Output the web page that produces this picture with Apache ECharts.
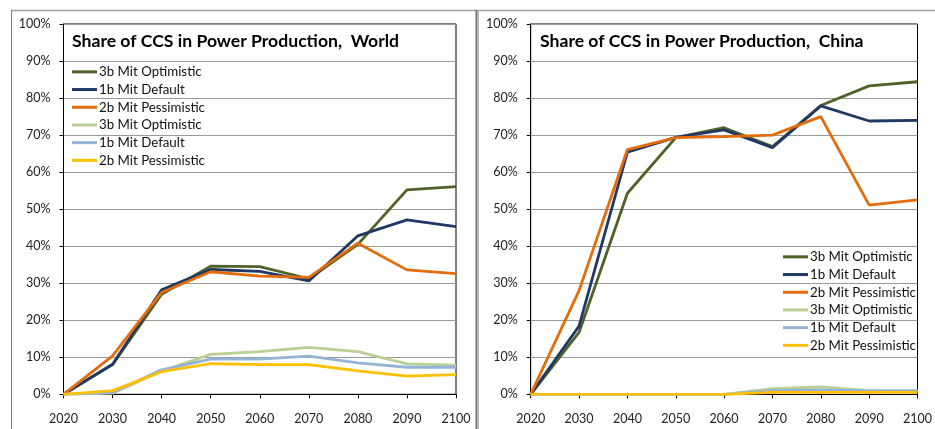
<!DOCTYPE html>
<html>
<head>
<meta charset="utf-8">
<script src="https://cdn.jsdelivr.net/npm/echarts@6/dist/echarts.min.js"></script>
<style>
  html, body { margin: 0; padding: 0; background: #fff; }
  #chart { width: 935px; height: 429px; }
</style>
</head>
<body>
<div id="chart"></div>
<script>
// Years on the horizontal axis
const years = ['2020', '2030', '2040', '2050', '2060', '2070', '2080', '2090', '2100'];

// Scenario labels, in legend order
const scenarioLabels = ['3b Mit Optimistic', '1b Mit Default', '2b Mit Pessimistic',
                        '3b Mit Optimistic', '1b Mit Default', '2b Mit Pessimistic'];
const scenarioColors = ['#4F6228', '#1F3864', '#E46C0A', '#B9CF93', '#95B3D7', '#FFC000'];

// Share of CCS in power production, World (%)
const worldOptimistic   = [0, 8.0, 27.0, 34.6, 34.5, 31.2, 40.5, 55.2, 56.1];
const worldDefault      = [0, 8.1, 28.2, 33.7, 33.2, 30.6, 42.8, 47.1, 45.3];
const worldPessimistic  = [0, 10.4, 27.5, 33.1, 31.9, 31.6, 40.8, 33.6, 32.6];
const worldOptimisticB  = [0, 0.3, 6.3, 10.8, 11.5, 12.7, 11.5, 8.2, 7.9];
const worldDefaultB     = [0, 0.5, 6.6, 9.5, 9.5, 10.3, 8.5, 7.3, 7.3];
const worldPessimisticB = [0, 1.0, 6.1, 8.3, 8.0, 8.0, 6.3, 4.9, 5.3];

// Share of CCS in power production, China (%)
const chinaOptimistic   = [0, 16.7, 54.3, 69.3, 72.0, 66.9, 78.0, 83.3, 84.4];
const chinaDefault      = [0, 18.4, 65.4, 69.4, 71.4, 66.6, 77.9, 73.8, 74.0];
const chinaPessimistic  = [0, 28.0, 66.1, 69.3, 69.6, 70.0, 75.0, 51.1, 52.5];
const chinaOptimisticB  = [0, 0, 0, 0, 0, 1.5, 2.0, 1.0, 1.0];
const chinaDefaultB     = [0, 0, 0, 0, 0, 1.0, 1.2, 0.9, 0.9];
const chinaPessimisticB = [0, 0, 0, 0, 0, 0.5, 0.5, 0.5, 0.5];

const worldSets = [worldOptimistic, worldDefault, worldPessimistic,
                   worldOptimisticB, worldDefaultB, worldPessimisticB];
const chinaSets = [chinaOptimistic, chinaDefault, chinaPessimistic,
                   chinaOptimisticB, chinaDefaultB, chinaPessimisticB];

const FONT = 'Lato, "Open Sans", sans-serif';

function makeSeries(region, sets, axisIndex) {
  return sets.map((vals, i) => ({
    name: region + '|' + i,
    type: 'line',
    xAxisIndex: axisIndex,
    yAxisIndex: axisIndex,
    data: vals,
    showSymbol: false,
    symbol: 'none',
    lineStyle: { color: scenarioColors[i], width: 2.8 },
    itemStyle: { color: scenarioColors[i] },
    emphasis: { disabled: true },
    animation: false
  }));
}

function legendFor(region, left, top) {
  return {
    orient: 'vertical',
    left: left,
    top: top,
    padding: 0,
    itemGap: 0,
    itemWidth: 25,
    itemHeight: 3,
    icon: 'rect',
    selectedMode: false,
    data: scenarioLabels.map((_, i) => region + '|' + i),
    formatter: n => scenarioLabels[+n.split('|')[1]],
    textStyle: { fontFamily: FONT, fontSize: 13.3, color: '#111', lineHeight: 17.7, padding: [0, 0, 0, -3] }
  };
}

function xAxisFor(gridIndex) {
  return {
    type: 'category',
    gridIndex: gridIndex,
    data: years,
    boundaryGap: false,
    axisLine: { lineStyle: { color: '#000', width: 1 } },
    axisTick: { show: true, inside: false, length: 4, lineStyle: { color: '#000' } },
    axisLabel: { fontFamily: FONT, fontSize: 12.5, color: '#222', margin: 18 },
    splitLine: { show: false }
  };
}

function yAxisFor(gridIndex) {
  return {
    type: 'value',
    gridIndex: gridIndex,
    min: 0, max: 100, interval: 10,
    axisLine: { show: true, lineStyle: { color: '#000', width: 1 } },
    axisTick: { show: true, inside: false, length: 4, lineStyle: { color: '#000' } },
    axisLabel: { fontFamily: FONT, fontSize: 12.5, color: '#222', margin: 13, formatter: v => v + '%' },
    splitLine: { show: true, lineStyle: { color: '#9a9a9a', width: 1 } }
  };
}

const chart = echarts.init(document.getElementById('chart'), null, { renderer: 'canvas' });
chart.setOption({
  animation: false,
  backgroundColor: '#fff',
  title: [
    { text: 'Share of CCS in Power Production,  World', left: 72, top: 30, padding: 0,
      textStyle: { fontFamily: FONT, fontSize: 17.6, fontWeight: 'bold', color: '#000', lineHeight: 22 } },
    { text: 'Share of CCS in Power Production,  China', left: 540, top: 30, padding: 0,
      textStyle: { fontFamily: FONT, fontSize: 17.6, fontWeight: 'bold', color: '#000', lineHeight: 22 } }
  ],
  legend: [legendFor('World', 72, 63), legendFor('China', 783, 248)],
  grid: [
    { left: 63.5, right: 479, top: 24, bottom: 34.7, show: true, borderColor: '#000', borderWidth: 1, backgroundColor: 'transparent' },
    { left: 530.7, right: 10, top: 24, bottom: 34.7, show: true, borderColor: '#000', borderWidth: 1, backgroundColor: 'transparent' }
  ],
  xAxis: [xAxisFor(0), xAxisFor(1)],
  yAxis: [yAxisFor(0), yAxisFor(1)],
  series: makeSeries('World', worldSets, 0).concat(makeSeries('China', chinaSets, 1)),
  graphic: [
    // frame around the two panels
    { type: 'line', silent: true, shape: { x1: 11, y1: 10.5, x2: 935, y2: 10.5 }, style: { stroke: '#a0a0a0', lineWidth: 1.5 } },
    { type: 'line', silent: true, shape: { x1: 11.5, y1: 10, x2: 11.5, y2: 429 }, style: { stroke: '#808080', lineWidth: 1 } },
    { type: 'line', silent: true, shape: { x1: 476.5, y1: 10, x2: 476.5, y2: 429 }, style: { stroke: '#707070', lineWidth: 2 } },
    { type: 'line', silent: true, shape: { x1: 478.5, y1: 10, x2: 478.5, y2: 429 }, style: { stroke: '#b8b8b8', lineWidth: 1 } }
  ]
});
</script>
</body>
</html>
